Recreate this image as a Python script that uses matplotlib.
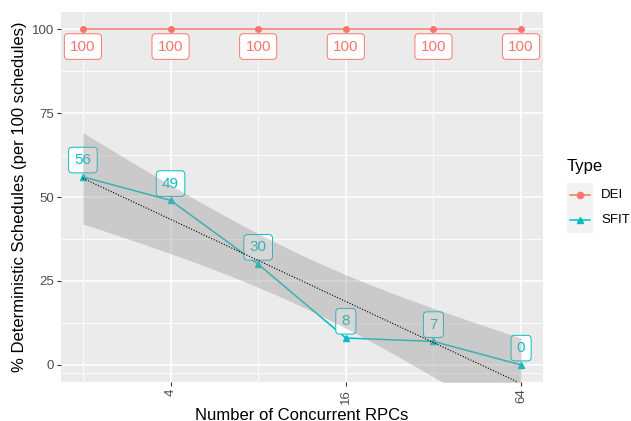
import numpy as np
import matplotlib
matplotlib.use("Agg")
import matplotlib.pyplot as plt
from matplotlib.lines import Line2D
from matplotlib.patches import Rectangle

plt.rcParams['font.family'] = ['Liberation Sans', 'DejaVu Sans']

# data
rpcs = [2, 4, 8, 16, 32, 64]
dei = [100, 100, 100, 100, 100, 100]
sfit = [56, 49, 30, 8, 7, 0]
x_ticks = [4, 16, 64]

dei_col = '#F8766D'
sfit_col = '#00BFC4'

W, H = 631, 421
fig = plt.figure(figsize=(W / 100, H / 100), dpi=100)
# panel position in pixels
l, r, t, b = 61, 543, 12.3, 381.7
ax = fig.add_axes([l / W, 1 - b / H, (r - l) / W, (b - t) / H])
ax.set_facecolor('#EBEBEB')
for s in ax.spines.values():
    s.set_visible(False)

lx = np.log2(rpcs)

# grid (minor first)
for v in [-2.5, 12.5, 37.5, 62.5, 87.5]:
    ax.axhline(v, color='white', lw=0.55, zorder=0)
for v in [0, 25, 50, 75, 100]:
    ax.axhline(v, color='white', lw=1.1, zorder=0)
for v in [1, 3, 5]:
    ax.axvline(v, color='white', lw=0.55, zorder=0)
for v in np.log2(x_ticks):
    ax.axvline(v, color='white', lw=1.1, zorder=0)

# lines + points
ax.plot(lx, dei, color=dei_col, lw=1.1, marker='o', ms=4, zorder=2)
ax.plot(lx, sfit, color=sfit_col, lw=1.1, marker='^', ms=4.5, zorder=2)

# labels
box = 'round,pad=0.38,rounding_size=0.25'
for xv, yv in zip(lx, dei):
    ax.text(xv, yv - 5.2, str(yv), color=dei_col, fontsize=11, ha='center', va='center',
            zorder=3, bbox=dict(boxstyle=box, fc='white', ec=dei_col, lw=0.7))
for xv, yv in zip(lx, sfit):
    ax.text(xv, yv + 5.0, str(yv), color=sfit_col, fontsize=11, ha='center', va='center',
            zorder=3, bbox=dict(boxstyle=box, fc='white', ec=sfit_col, lw=0.7))

# linear fit on log2(x) with 95% band
xa = np.array(lx)
ya = np.array(sfit, dtype=float)
n = len(xa)
slope, icpt = np.polyfit(xa, ya, 1)
res = ya - (slope * xa + icpt)
s = np.sqrt(np.sum(res ** 2) / (n - 2))
sxx = np.sum((xa - xa.mean()) ** 2)
xs = np.linspace(xa.min(), xa.max(), 80)
fit = slope * xs + icpt
se = s * np.sqrt(1 / n + (xs - xa.mean()) ** 2 / sxx)
tq = 2.776  # t(0.975, df=4)
ax.fill_between(xs, fit - tq * se, fit + tq * se, color='#999999', alpha=0.4, lw=0, zorder=4)
ax.plot(xs, fit, color='black', lw=0.8, ls=(0, (1, 1.5)), zorder=5)

ax.set_xlim(0.75, 6.25)
ax.set_ylim(-5, 105)
ax.set_xticks(np.log2(x_ticks))
ax.set_xticklabels([str(v) for v in x_ticks], rotation=90)
ax.set_yticks([0, 25, 50, 75, 100])
ax.tick_params(colors='#333333', labelcolor='#4D4D4D', labelsize=9.5, length=3, width=0.8, pad=2)

# axis titles placed by hand
fig.text((l + r) / 2 / W, 1 - 419.5 / H, 'Number of Concurrent RPCs', fontsize=12,
         ha='center', va='baseline')
fig.text(19.5 / W, 1 - (t + b) / 2 / H, '% Deterministic Schedules (per 100 schedules)',
         fontsize=12, rotation=90, ha='center', va='center')

# legend drawn by hand
fig.text(567 / W, 1 - 167 / H, 'Type', fontsize=12, ha='left', va='center')
fig.add_artist(Rectangle((567 / W, 1 - 233 / H), 26 / W, 50 / H, transform=fig.transFigure,
                         fc='#F2F2F2', ec='none'))
for yy, col, mk, name in [(195, dei_col, 'o', 'DEI'), (220, sfit_col, '^', 'SFIT')]:
    fig.add_artist(Line2D([570 / W, 590 / W], [1 - yy / H] * 2, color=col, lw=1.1,
                          transform=fig.transFigure))
    fig.add_artist(Line2D([580 / W], [1 - yy / H], color=col, marker=mk, ms=4.5,
                          transform=fig.transFigure))
    fig.text(601 / W, 1 - yy / H, name, fontsize=9.5, ha='left', va='center')

fig.savefig('out.png', dpi=100)
